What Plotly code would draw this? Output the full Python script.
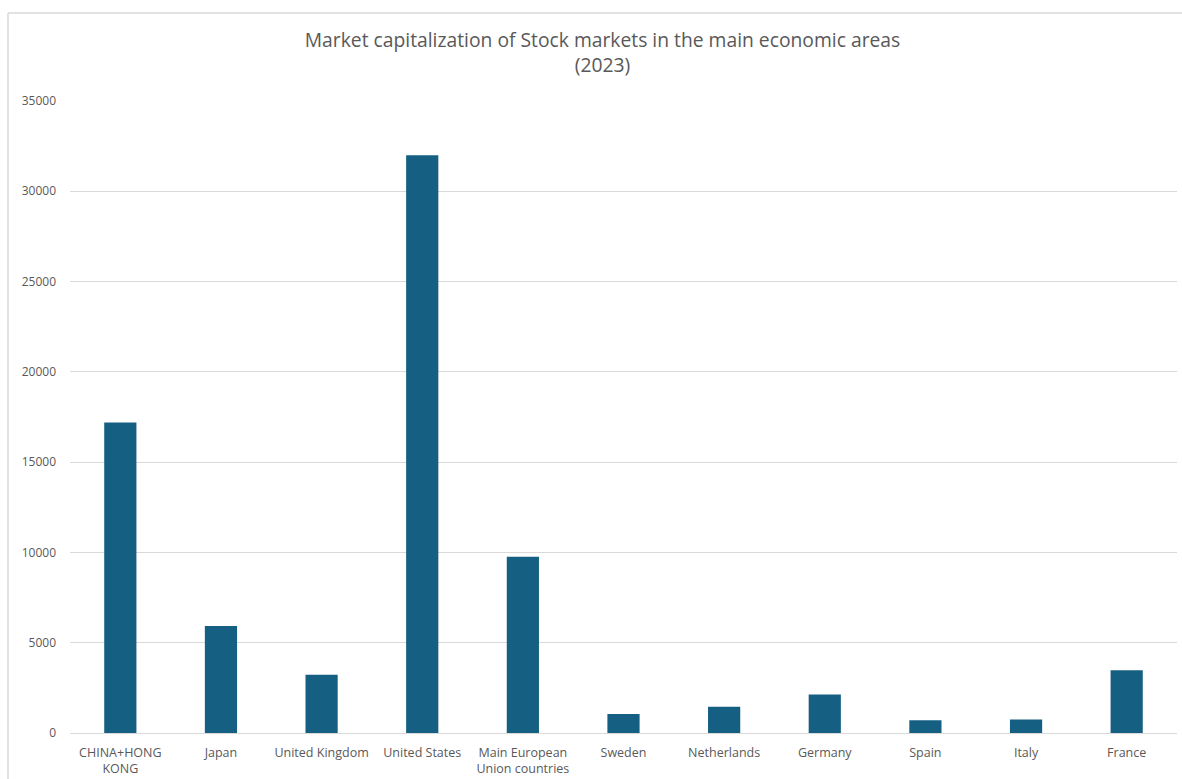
import plotly.graph_objects as go

# Market capitalization by area, 2023 (billions USD)
categories = [
    "CHINA+HONG<br>KONG", "Japan", "United Kingdom", "United States",
    "Main European<br>Union countries", "Sweden", "Netherlands", "Germany",
    "Spain", "Italy", "France",
]
market_cap = [17190, 5930, 3220, 32000, 9760, 1050, 1450, 2130, 710, 750, 3480]
y_ticks = [0, 5000, 10000, 15000, 20000, 25000, 30000, 35000]

W, H = 1182, 779
ML, MR, MT, MB = 70, 5, 101, 46
plot_w = W - ML - MR
plot_h = H - MT - MB

BAR = "#156082"
GRID = "#d9d9d9"
TXT = "#595959"
FONT = "Open Sans"

fig = go.Figure(
    go.Bar(
        x=categories,
        y=market_cap,
        marker=dict(color=BAR, line=dict(width=0)),
        hoverinfo="x+y",
    )
)

fig.update_layout(
    width=W,
    height=H,
    margin=dict(l=ML, r=MR, t=MT, b=MB, pad=0, autoexpand=False),
    paper_bgcolor="white",
    plot_bgcolor="white",
    bargap=0.68,
    showlegend=False,
    font=dict(family=FONT, color=TXT, size=12),
    title=dict(
        text="Market capitalization of Stock markets in the main economic areas<br>(2023)",
        x=602.5 / W,
        xanchor="center",
        xref="container",
        y=1 - 47 / H,
        yref="container",
        yanchor="top",
        font=dict(family=FONT, size=19.3, color=TXT),
    ),
)

fig.update_xaxes(
    automargin=False,
    showgrid=False,
    showline=False,
    zeroline=False,
    ticks="",
    tickangle=0,
    tickfont=dict(family=FONT, size=12.5, color=TXT),
    ticklabelstandoff=10,
)

fig.update_yaxes(
    automargin=False,
    range=[0, 35000],
    tickvals=y_ticks,
    ticktext=[str(v) for v in y_ticks],
    showgrid=True,
    gridcolor=GRID,
    gridwidth=1,
    zeroline=True,
    zerolinecolor=GRID,
    zerolinewidth=1,
    showline=False,
    ticks="",
    tickfont=dict(family=FONT, size=12, color=TXT),
    ticklabelstandoff=13,
)

# Chart-area frame along the top and left edges
left_x = (8 - ML) / plot_w
top_y = 1 + (MT - 13) / plot_h
bottom_y = -(MB) / plot_h
right_x = 1 + MR / plot_w
fig.add_shape(type="line", xref="paper", yref="paper",
              x0=left_x, x1=right_x, y0=top_y, y1=top_y,
              line=dict(color=GRID, width=1.5))
fig.add_shape(type="line", xref="paper", yref="paper",
              x0=left_x, x1=left_x, y0=top_y, y1=bottom_y,
              line=dict(color=GRID, width=1.5))

fig.write_html("out.html")
